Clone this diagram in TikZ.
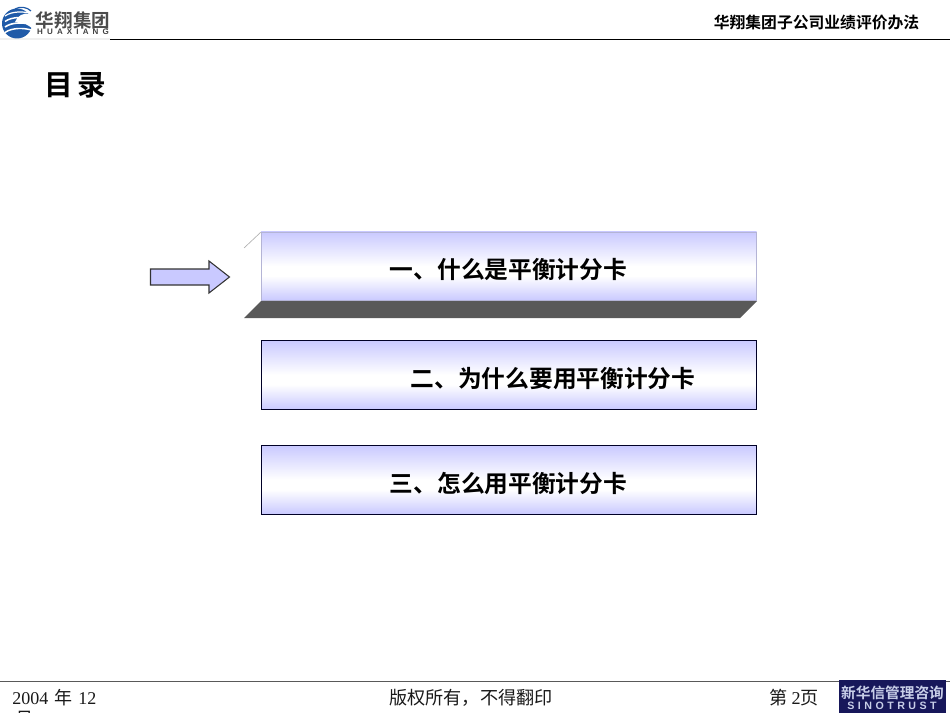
\documentclass[tikz,border=0pt]{standalone}
\usepackage{fontspec}
\setmainfont{Liberation Serif}
\newfontfamily\cjk{Noto Sans CJK SC}
\newfontfamily\cjkb{Noto Sans CJK SC Bold}
\newfontfamily\latinb{Liberation Sans Bold}
\definecolor{lav}{HTML}{C9C9FF}
\definecolor{edgeblue}{HTML}{B4B4D6}
\definecolor{darkface}{HTML}{595959}
\definecolor{navy}{HTML}{17175A}
\definecolor{logoblue}{HTML}{1F5AA8}
\definecolor{logolight}{HTML}{C8CEE8}
\pgfdeclareverticalshading{menushade}{100bp}{
  color(0bp)=(lav); color(25bp)=(lav); color(43bp)=(white); color(50bp)=(white); color(75bp)=(lav); color(100bp)=(lav)}
\tikzset{
  px/.style={x=0.75pt,y=-0.75pt},
  menubox/.style={draw=#1,minimum width=371.6pt,minimum height=51.5pt,inner sep=0pt,anchor=north west,
     shading=menushade},
  menutext/.style={inner sep=0pt,font=\cjkb\fontsize{17.8pt}{20pt}\selectfont,text=black},
  foottext/.style={inner sep=0pt,font=\cjk\fontsize{13.6pt}{15pt}\selectfont,text=black!90},
  rule/.style={line width=0.75pt},
}
\begin{document}
\begin{tikzpicture}[px]
\useasboundingbox (0,0) rectangle (950,713);
\clip (0,0) rectangle (950,713);
% header logo
\fill[black!6] (0,38.5) rectangle (110,40);
\fill[logoblue] (17,23.5) circle (15);
\foreach \yy/\ww in {13/0.9,18.5/1.1,24/1.2,29.5/1.1}{
  \draw[white,line width=\ww pt] (5,\yy+3) .. controls (12,\yy-2) and (24,\yy-2) .. (33,\yy+1);
}
\fill[white] (21,15) .. controls (27,12) and (31,14) .. (33,18) -- (33,29) .. controls (28,25) and (24,22) .. (15,22) .. controls (16,19) and (18,17) .. (21,15) -- cycle;
\draw[logoblue,line width=0.9pt] (15,9) .. controls (20,6) and (27,7) .. (31,11);
\node[inner sep=0pt,anchor=center,text=black!70] (logoname) at (73,20)
  {\cjkb\fontsize{13.9pt}{14pt}\selectfont 华翔集团};
\node[inner sep=0pt,anchor=center,text=black!75] (logolatin) at (73,31.5)
  {\latinb\fontsize{6pt}{7pt}\selectfont H\hspace{3.1pt}U\hspace{3.1pt}A\hspace{3.1pt}X\hspace{3.1pt}I\hspace{3.1pt}A\hspace{3.1pt}N\hspace{3.1pt}G};
\draw[rule,black] (110,39.5) -- (950,39.5);
\node[inner sep=0pt,anchor=east,text=black] (head) at (919.5,23)
  {\cjkb\fontsize{11.85pt}{13pt}\selectfont 华翔集团子公司业绩评价办法};
\node[inner sep=0pt,anchor=west,text=black] (title) at (44,85)
  {\cjkb\fontsize{21.5pt}{24pt}\selectfont 目\hspace{3.5pt}录};
% arrow
\draw[fill=lav,draw=black!80,line width=0.8pt,line join=miter]
  (150.5,269) -- (209,269) -- (209,261) -- (229.5,277) -- (209,293) -- (209,285) -- (150.5,285) -- cycle;
% box 1 with bevel
\fill[white] (244,248) -- (261,232) -- (261,301) -- (244,318) -- cycle;
\draw[black!30,line width=0.5pt] (244,248) -- (261,232);
\fill[darkface] (261,301) -- (757,301) -- (740,318) -- (244,318) -- cycle;
\node[menubox=edgeblue] (b1) at (260.8,231.6) {};
\node[menutext] (t1) at (508.5,270) {一、什么是平衡计分卡};
% box 2, 3
\node[menubox=black!85!blue] (b2) at (260.8,340.2) {};
\node[menutext] (t2) at (553,378.5) {二、为什么要用平衡计分卡};
\node[menubox=black!85!blue] (b3) at (260.8,445.2) {};
\node[menutext] (t3) at (508.5,484) {三、怎么用平衡计分卡};
% footer
\draw[rule,black!65] (0,681) -- (950,681);
\node[inner sep=0pt,anchor=west,text=black!90] (date) at (12,698)
  {\fontsize{13.5pt}{15pt}\selectfont 2004\hspace{5pt}{\cjk 年}\hspace{4pt}12};
\node[foottext,anchor=north west] (mon) at (15,711) {月};
\node[foottext] (copy) at (471,698) {版权所有，不得翻印};
\node[foottext,anchor=east] (page) at (819,698) {第\hspace{3pt}{\rmfamily 2}页};
\fill[navy] (839,680) rectangle (946,713);
\node[inner sep=0pt,text=logolight] (sino1) at (892.5,692.5)
  {\cjkb\fontsize{11pt}{12pt}\selectfont 新华信管理咨询};
\node[inner sep=0pt,text=logolight] (sino2) at (892,706)
  {\latinb\fontsize{8pt}{8pt}\selectfont S\hspace{2.6pt}I\hspace{2.6pt}N\hspace{2.6pt}O\hspace{2.6pt}T\hspace{2.6pt}R\hspace{2.6pt}U\hspace{2.6pt}S\hspace{2.6pt}T};
\end{tikzpicture}
\end{document}
